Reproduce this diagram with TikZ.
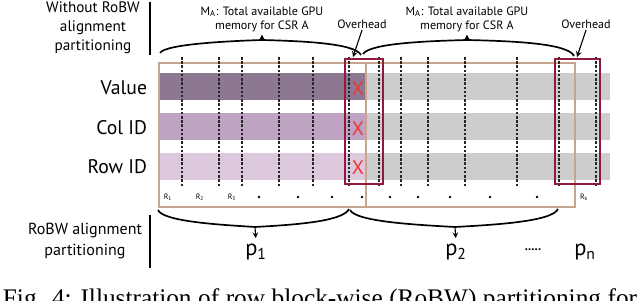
\documentclass[tikz,border=0pt]{standalone}
\usepackage{fontspec}
\setmainfont{Liberation Serif}
\setsansfont{PT Sans}

\definecolor{valfill}{HTML}{8C7891}
\definecolor{colfill}{HTML}{BEA3C3}
\definecolor{rowfill}{HTML}{DCC9DD}
\definecolor{restfill}{HTML}{CDCDCD}
\definecolor{tanline}{HTML}{C9A48C}
\definecolor{ovline}{HTML}{8E1B3C}
\definecolor{xred}{HTML}{EE3535}

\def\BarL{160}
\def\BarM{365}
\def\BarR{610}
\def\BarH{27}

\begin{document}
\begin{tikzpicture}[x=0.025cm, y=-0.025cm, >=stealth, font=\sffamily,
  gridline/.style={draw=black!85, line width=1.4pt, dash pattern=on 1.8pt off 1.2pt},
  tanbox/.style={draw=tanline, line width=1pt},
  ovbox/.style={draw=ovline, line width=1.5pt},
  bracepath/.style={line width=1.2pt},
  rowname/.style={anchor=east, font=\sffamily\fontsize{14}{16}\selectfont},
  xmark/.style={text=xred, font=\sffamily\fontsize{14}{16}\selectfont, inner sep=0pt},
  small/.style={font=\sffamily\fontsize{8.6}{10}\selectfont, align=center, inner sep=1pt},
  tiny/.style={font=\sffamily\fontsize{5.5}{6}\selectfont, inner sep=0pt},
  pname/.style={font=\sffamily\fontsize{16}{18}\selectfont, inner sep=1pt}]
  \clip (0, 0) rectangle (640, 301);
  \useasboundingbox (0, 0) rectangle (640, 301);

  % the three arrays of CSR A
  \fill[valfill]  (\BarL, 73)  rectangle (\BarM, 73+\BarH);
  \fill[colfill]  (\BarL, 113) rectangle (\BarM, 113+\BarH);
  \fill[rowfill]  (\BarL, 153) rectangle (\BarM, 153+\BarH);
  \foreach \y in {73, 113, 153}
    \fill[restfill] (\BarM, \y) rectangle (\BarR, \y+\BarH);

  \node[rowname] (value) at (152, 88)  {Value};
  \node[rowname] (colid) at (152, 128) {Col ID};
  \node[rowname] (rowid) at (152, 167) {Row ID};

  % RoBW partitions
  \draw[tanbox] (159, 63) rectangle (575, 207);
  \draw[tanbox] (366, 63) -- (366, 207);

  % row block boundaries
  \foreach \x in {182, 219, 242, 279, 313, 349, 379, 401, 428, 465, 517, 559, 596}
    \draw[gridline] (\x, 57) -- (\x, 187);

  % overhead regions
  \draw[ovbox] (345, 59) rectangle (383, 184);
  \draw[ovbox] (555, 59) rectangle (600, 184);
  \node[xmark] (x1) at (358, 89)  {X};
  \node[xmark] (x2) at (358, 129) {X};
  \node[xmark] (x3) at (358, 168) {X};

  % row labels
  \node[tiny] (r1) at (168, 197) {R\textsubscript{1}};
  \node[tiny] (r2) at (200, 197) {R\textsubscript{2}};
  \node[tiny] (r3) at (232, 197) {R\textsubscript{3}};
  \node[tiny] (rk) at (584, 197) {R\textsubscript{k}};
  \foreach \x in {259, 298, 332, 362, 390, 418, 450, 490, 537}
    \fill (\x, 197) circle (1.3);

  % without RoBW alignment
  \node[font=\sffamily\fontsize{10.8}{13.5}\selectfont, align=center] (norobw) at (93, 28)
    {Without RoBW\\alignment\\partitioning};
  \draw[line width=1.2pt] (150, 2) -- (150, 55);

  \coordinate (bA) at (262, 40);
  \coordinate (bB) at (467, 40);
  \draw[bracepath] (160, 53) .. controls (165, 44) and (230, 41) .. (bA)
    .. controls (300, 41) and (355, 43) .. (361, 55);
  \draw[bracepath] (363, 54) .. controls (370, 43) and (430, 41) .. (bB)
    .. controls (510, 41) and (568, 43) .. (574, 56);
  \node[small] (memA) at (262, 19) {M\textsubscript{A}: Total available GPU\\memory for CSR A};
  \node[small] (memB) at (467, 19) {M\textsubscript{A}: Total available GPU\\memory for CSR A};
  \draw[->, thick, shorten >=1pt] (bA) -- (memA.south);
  \draw[->, thick, shorten >=1pt] (bB) -- (memB.south);

  \node[small] (ovA) at (362, 24) {Overhead};
  \node[small] (ovB) at (586, 24) {Overhead};
  \coordinate (ovAtip) at (353, 57);
  \coordinate (ovBtip) at (577, 57);
  \draw[->, thick] (ovA.south) -- (ovAtip);
  \draw[->, thick] (ovB.south) -- (ovBtip);

  % with RoBW alignment
  \node[font=\sffamily\fontsize{11.4}{15.5}\selectfont, align=center] (robw) at (85, 241)
    {RoBW alignment\\partitioning};
  \draw[line width=1.2pt] (150, 215) -- (150, 268);

  \coordinate (bC) at (255, 227);
  \coordinate (bD) at (455, 227);
  \draw[bracepath] (158, 210) .. controls (163, 222) and (225, 225) .. (bC)
    .. controls (290, 225) and (343, 222) .. (349, 209);
  \draw[bracepath] (350, 210) .. controls (356, 222) and (420, 225) .. (bD)
    .. controls (490, 225) and (552, 222) .. (558, 209);
  \node[pname] (pone) at (256, 252) {p\textsubscript{1}};
  \node[pname] (ptwo) at (456, 252) {p\textsubscript{2}};
  \node[pname] (pdots) at (533, 250) {\fontsize{9}{10}\selectfont\textbf{.....}};
  \node[pname] (pn) at (585, 252) {p\textsubscript{n}};
  \draw[->, thick, shorten >=3pt] (bC) -- (pone.north);
  \draw[->, thick, shorten >=3pt] (bD) -- (ptwo.north);

  % caption, cut by the page edge
  \node[anchor=base, inner sep=0pt, font=\rmfamily\fontsize{18}{20}\selectfont] (caption) at (320, 307)
    {\makebox[451pt][s]{Fig. 4: Illustration of row block-wise (RoBW) partitioning for}};
\end{tikzpicture}
\end{document}
